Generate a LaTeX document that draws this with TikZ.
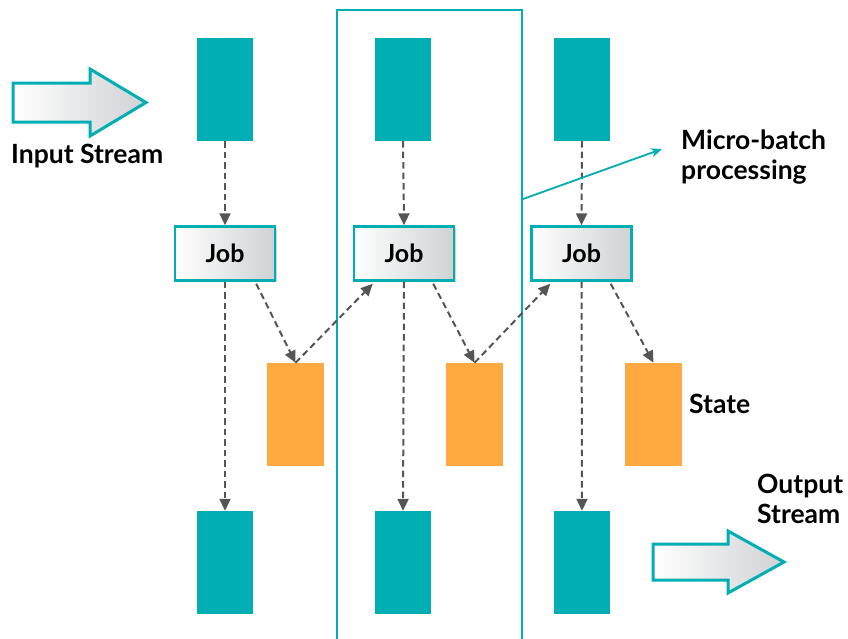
\documentclass[tikz,border=0pt]{standalone}
\usepackage{fontspec}
\setmainfont{Lato}
\usetikzlibrary{arrows.meta,calc,shadows}
\definecolor{tealc}{HTML}{00AEB3}
\definecolor{statec}{HTML}{FFAA40}
\definecolor{flowc}{HTML}{555555}
\definecolor{shadec}{HTML}{CFD1D3}
\tikzset{
  batch/.style={fill=tealc, draw=none, minimum width=56pt, minimum height=103pt, inner sep=0pt},
  statebox/.style={fill=statec, draw=none, minimum width=57pt, minimum height=103pt, inner sep=0pt},
  jobbox/.style={draw=tealc, line width=2.4pt, left color=white, right color=shadec,
    minimum width=100pt, minimum height=54pt, inner sep=0pt, font=\fontsize{25}{28}\selectfont\bfseries,
    drop shadow={shadow xshift=1.5pt, shadow yshift=-1.5pt, opacity=0.35}},
  flow/.style={draw=flowc, line width=2pt, dash pattern=on 6.5pt off 4pt, -{Triangle[length=12pt,width=11pt]}},
  bigarrow/.style={draw=tealc, line width=3pt, left color=white, right color=shadec, line join=miter},
  lbl/.style={font=\fontsize{26.5}{30.5}\selectfont\bfseries, align=left, inner sep=0pt, text=black}
}
\begin{document}
\begin{tikzpicture}[x=1pt,y=-1pt]
\useasboundingbox (0,0) rectangle (848,638);
\clip (0,0) rectangle (848,638);

% micro-batch frame
\node[draw=tealc, line width=2pt, minimum width=185pt, minimum height=660pt, inner sep=0pt, anchor=north west] (frame) at (336,9) {};

% incoming batches and results
\foreach \i/\x in {1/225,2/403,3/582} {
  \node[batch] (in\i) at (\x,89.5) {};
  \node[batch] (out\i) at (\x,562.5) {};
}
% state boxes
\foreach \i/\x in {1/295.5,2/474.5,3/653.5} {
  \node[statebox] (st\i) at (\x,414.5) {};
}
% jobs
\node[jobbox] (job1) at (225,253.5) {Job};
\node[jobbox] (job2) at (404,253.5) {Job};
\node[jobbox] (job3) at (581.5,253.5) {Job};

% data flow
\foreach \i in {1,2,3} {
  \draw[flow] (in\i.south) -- (job\i.north);
  \draw[flow] (job\i.south) -- (out\i.north);
}
\draw[flow] ($(job1.south east)+(-20,2)$) -- (st1.north);
\draw[flow] (st1.north) -- ($(job2.south west)+(20,2)$);
\draw[flow] ($(job2.south east)+(-22,2)$) -- (st2.north);
\draw[flow] (st2.north) -- ($(job3.south west)+(20,2)$);
\draw[flow] ($(job3.south east)+(-22,2)$) -- (st3.north);

% input / output stream arrows
\path[bigarrow] (13,83) -- (90,83) -- (90,69) -- (146,102.5) -- (90,136) -- (90,122) -- (13,122) -- cycle;
\path[bigarrow] (653,544) -- (728,544) -- (728,531) -- (784,562) -- (728,593) -- (728,580) -- (653,580) -- cycle;

% labels (base west = baseline of the last line)
\node[lbl, anchor=base west] (inlbl) at (11,163.3) {Input Stream};
\node[lbl, anchor=base west] (outlbl) at (757,523.5) {Output\\Stream};
\node[lbl, anchor=base west] (stlbl) at (689,413.3) {State};
\node[lbl, anchor=base west] (mblbl) at (681,179.5) {Micro-batch\\processing};

\coordinate (mbtip) at (662,149);
\draw[draw=tealc, line width=1.8pt, -{Stealth[length=11pt,width=9pt]}] (frame.east |- 0,199) -- (mbtip);
\end{tikzpicture}
\end{document}
